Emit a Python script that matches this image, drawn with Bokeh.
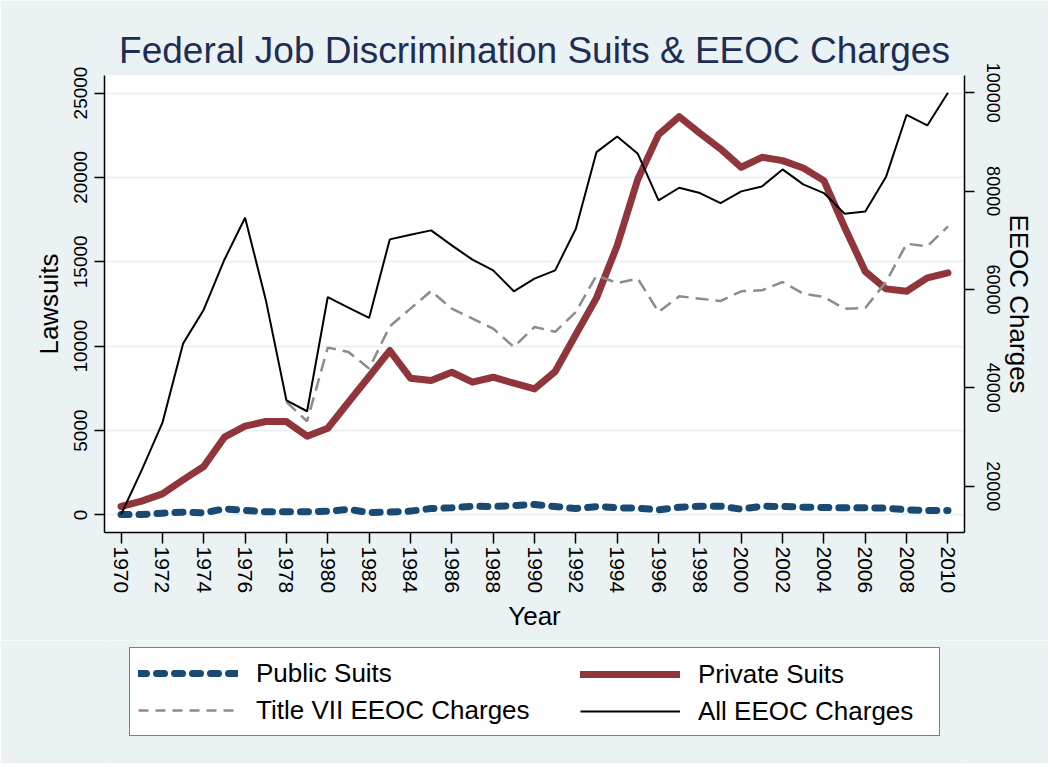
import math
from bokeh.plotting import figure
from bokeh.layouts import column
from bokeh.models import (Range1d, LinearAxis, FixedTicker, Legend, LegendItem,
                          BasicTickFormatter, ColumnDataSource)
from bokeh.embed import file_html
from bokeh.resources import INLINE

NaN = float("nan")

years = list(range(1970, 2011))

public_suits = [30, 30, 110, 170, 130, 365, 270, 190, 190, 190,
                230, 330, 150, 170, 230, 385, 425, 520, 500, 560,
                620, 500, 385, 500, 425, 405, 306, 464, 520, 520,
                345, 520, 500, 464, 444, 425, 425, 405, 306, 267,
                267]

private_suits = [503, 819, 1253, 2082, 2872, 4608, 5260, 5537, 5537, 4668,
                 5142, 6682, 8202, 9742, 8103, 7965, 8458, 7866, 8162, 7807,
                 7471, 8498, 10690, 12862, 15961, 19909, 22534, 23600, 22613, 21686,
                 20600, 21192, 20995, 20561, 19810, 17047, 14422, 13396, 13258, 14047,
                 14343]

title7_charges = [NaN, NaN, NaN, NaN, NaN, NaN, NaN, NaN, 37130, 33210,
                  48180, 47300, 43910, 52510, 56100, 59690, 56100, 54080, 52040, 48310,
                  52380, 51400, 55430, 62880, 61320, 62200, 55430, 58610, 58140, 57660,
                  59630, 59830, 61520, 59150, 58470, 56100, 56240, 61520, 69310, 68770,
                  72840]

all_charges = [14240, 23250, 32870, 48990, 55900, 66060, 74600, 57930, 37470, 35240,
               58470, 56310, 54210, 70190, 71140, 72020, 68970, 66060, 63890, 59630,
               62200, 63890, 72360, 87940, 91130, 87600, 78120, 80690, 79610, 77580,
               79950, 80960, 84420, 81370, 79610, 75410, 75880, 82860, 95530, 93360,
               100000]

x_ticks = list(range(1970, 2011, 2))
left_ticks = [0, 5000, 10000, 15000, 20000, 25000]
right_ticks = [20000, 40000, 60000, 80000, 100000]

title_text = "Federal Job Discrimination Suits & EEOC Charges"
labels = ["Public Suits", "Private Suits", "Title VII EEOC Charges", "All EEOC Charges"]

BG = "#EAF2F3"
FONT = "Liberation Sans"
C_PUB = "#1a4a72"
C_PRIV = "#90353b"
C_T7 = "#8c8c8c"
C_ALL = "black"

src = ColumnDataSource(dict(year=years, pub=public_suits, priv=private_suits,
                            t7=title7_charges, allc=all_charges))

p = figure(frame_width=860, frame_height=457,
           min_border_left=104, min_border_right=84, min_border_top=75, min_border_bottom=108,
           x_range=Range1d(1969.2, 2010.8), y_range=Range1d(-1037, 26037),
           output_backend="svg", toolbar_location=None,
           background_fill_color="white", border_fill_color=BG,
           outline_line_color=None)
p.extra_y_ranges = {"eeoc": Range1d(10580, 103520)}

# title
p.title.text = title_text
p.title.align = "center"
p.title.text_font = FONT
p.title.text_font_size = "37px"
p.title.text_font_style = "normal"
p.title.text_color = "#1e2d54"
p.title.standoff = 9

# grid
p.xgrid.grid_line_color = None
p.ygrid.ticker = FixedTicker(ticks=left_ticks)
p.ygrid.grid_line_color = BG
p.ygrid.grid_line_width = 2

# right axis
raxis = LinearAxis(y_range_name="eeoc", axis_label="EEOC Charges")
p.add_layout(raxis, "right")


def style_axis(ax, tick_size, label_standoff, axis_label_standoff):
    ax.axis_line_color = "black"
    ax.axis_line_width = 1.5
    ax.major_tick_line_color = "black"
    ax.major_tick_line_width = 1.5
    ax.major_tick_out = 10
    ax.major_tick_in = 0
    ax.minor_tick_line_color = None
    ax.major_label_orientation = "vertical"
    ax.major_label_text_font = FONT
    ax.major_label_text_font_size = tick_size
    ax.major_label_text_color = "black"
    ax.major_label_standoff = label_standoff
    ax.axis_label_text_font = FONT
    ax.axis_label_text_font_size = "26px"
    ax.axis_label_text_font_style = "normal"
    ax.axis_label_text_color = "black"
    ax.axis_label_standoff = axis_label_standoff


xa = p.xaxis[0]
style_axis(xa, "21px", 3, 5)
xa.ticker = FixedTicker(ticks=x_ticks)
xa.axis_label = "Year"
xa.major_tick_out = 11

ya = p.yaxis[0]
style_axis(ya, "19px", 7, 8)
ya.ticker = FixedTicker(ticks=left_ticks)
ya.formatter = BasicTickFormatter(use_scientific=False)
ya.axis_label = "Lawsuits"

style_axis(raxis, "18px", 12, 1)
raxis.ticker = FixedTicker(ticks=right_ticks)
raxis.formatter = BasicTickFormatter(use_scientific=False)

# lines
r_pub = p.line("year", "pub", source=src, line_color=C_PUB, line_width=7,
               line_dash="8 10", line_cap="round", line_join="round")
r_priv = p.line("year", "priv", source=src, line_color=C_PRIV, line_width=7,
                line_cap="round", line_join="round")
r_t7 = p.line("year", "t7", source=src, y_range_name="eeoc", line_color=C_T7,
              line_width=2.5, line_dash="13 7")
r_all = p.line("year", "allc", source=src, y_range_name="eeoc", line_color=C_ALL,
               line_width=2)

# legend panel (second figure below the chart; its frame aligns with the chart frame)
q = figure(width=1048, height=123, min_border=0, x_axis_type=None, y_axis_type=None,
           x_range=Range1d(0, 1), y_range=Range1d(0, 1),
           output_backend="svg", toolbar_location=None,
           background_fill_color=BG, border_fill_color=BG, outline_line_color=None)
q.grid.visible = False
# legend keys: same series, drawn outside this panel's visible range
k_pub = q.line("year", "pub", source=src, line_color=C_PUB, line_width=7,
               line_dash="8 10", line_cap="round")
k_priv = q.line("year", "priv", source=src, line_color=C_PRIV, line_width=7, line_cap="round")
k_t7 = q.line("year", "t7", source=src, line_color=C_T7, line_width=2.5, line_dash="10 7")
k_all = q.line("year", "allc", source=src, line_color=C_ALL, line_width=2)

common = dict(label_text_font=FONT, label_text_font_size="26px", label_text_color="black",
              glyph_width=100, glyph_height=34, label_height=34, label_standoff=18,
              padding=8, spacing=3, margin=0, border_line_color="black",
              border_line_width=1.2)

legA = Legend(items=[LegendItem(label=labels[0], renderers=[k_pub]),
                     LegendItem(label=labels[2], renderers=[k_t7])],
              location=(25, 27),
              background_fill_color="white", background_fill_alpha=1.0,
              label_width=675, **common)
legB = Legend(items=[LegendItem(label=labels[1], renderers=[k_priv]),
                     LegendItem(label=labels[3], renderers=[k_all])],
              location=(468, 27), border_line_alpha=0.0,
              background_fill_alpha=0.0, label_width=20, **common)
q.add_layout(legA)
q.add_layout(legB)

layout = column(p, q, spacing=0)
open("out.html", "w").write(file_html(layout, INLINE))
